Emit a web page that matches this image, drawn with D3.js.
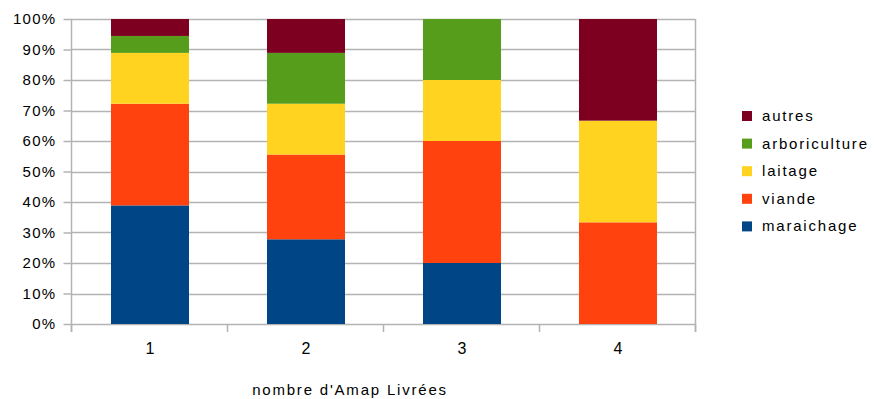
<!DOCTYPE html>
<html>
<head>
<meta charset="utf-8">
<script src="https://cdn.jsdelivr.net/npm/d3@7"></script>
<style>
  html, body { margin: 0; padding: 0; background: #fff; }
  svg { display: block; }
  text { font-family: "Liberation Sans", Arial, sans-serif; fill: #000; }
</style>
</head>
<body>
<svg id="chart" width="874" height="399"></svg>
<script>
// Categories on the x axis
const categories = ["1", "2", "3", "4"];

// Number of answers per kind of production (stacked to 100 %)
const maraichage    = [7, 5, 1, 0];
const viande        = [6, 5, 2, 1];
const laitage       = [3, 3, 1, 1];
const arboriculture = [1, 3, 1, 0];
const autres        = [1, 2, 0, 1];

const seriesNames  = ["maraichage", "viande", "laitage", "arboriculture", "autres"];
const seriesColors = ["#004586", "#ff420e", "#ffd320", "#579d1c", "#7e0021"];

const yTicks      = [0, 0.1, 0.2, 0.3, 0.4, 0.5, 0.6, 0.7, 0.8, 0.9, 1];
const yTickLabels = ["0%", "10%", "20%", "30%", "40%", "50%", "60%", "70%", "80%", "90%", "100%"];
const xTitle = "nombre d'Amap Livrées";

const rows = categories.map((c, i) => ({
  cat: c,
  maraichage: maraichage[i],
  viande: viande[i],
  laitage: laitage[i],
  arboriculture: arboriculture[i],
  autres: autres[i]
}));

const stacked = d3.stack()
  .keys(seriesNames)
  .offset(d3.stackOffsetExpand)(rows);

const svg = d3.select("#chart");
const plot = { left: 72, right: 696, top: 19, bottom: 324 };

const x = d3.scaleBand()
  .domain(categories)
  .range([plot.left, plot.right])
  .paddingInner(0.5)
  .paddingOuter(0.25);

const y = d3.scaleLinear()
  .domain([0, 1])
  .range([plot.bottom, plot.top]);

const color = d3.scaleOrdinal().domain(seriesNames).range(seriesColors);
const gridColor = "#b3b3b3";

// Horizontal grid lines
svg.append("g")
  .selectAll("line")
  .data(yTicks)
  .join("line")
  .attr("x1", plot.left - 1).attr("x2", plot.right - 1)
  .attr("y1", d => Math.round(y(d)) + 0.5).attr("y2", d => Math.round(y(d)) + 0.5)
  .attr("stroke", gridColor).attr("stroke-width", 1.5);

// Right border of the plot
svg.append("line")
  .attr("x1", plot.right - 0.5).attr("x2", plot.right - 0.5)
  .attr("y1", plot.top).attr("y2", plot.bottom + 8)
  .attr("stroke", gridColor).attr("stroke-width", 1.5);

// Stacked bars
svg.append("g")
  .selectAll("g")
  .data(stacked)
  .join("g")
  .attr("fill", d => color(d.key))
  .selectAll("rect")
  .data(d => d)
  .join("rect")
  .attr("x", d => x(d.data.cat))
  .attr("width", x.bandwidth())
  .attr("y", d => y(d[1]))
  .attr("height", d => y(d[0]) - y(d[1]));

// Y axis
const yAxis = d3.axisLeft(y)
  .tickValues(yTicks)
  .tickFormat((d, i) => yTickLabels[i])
  .tickSize(8)
  .tickPadding(7);

const gy = svg.append("g")
  .attr("transform", `translate(${plot.left - 0.5},0)`)
  .call(yAxis);
gy.select(".domain").remove();
gy.append("line")
  .attr("x1", 0).attr("x2", 0)
  .attr("y1", plot.top).attr("y2", plot.bottom + 8)
  .attr("stroke", gridColor).attr("stroke-width", 1.5);
gy.selectAll(".tick line").attr("stroke", gridColor).attr("stroke-width", 1.5);
gy.selectAll(".tick text")
  .style("font-size", "15px")
  .style("letter-spacing", "1.3px")
  .attr("fill", "#000");

// X axis: labels centered under bars, ticks on category boundaries
const xAxis = d3.axisBottom(x).tickSize(0).tickPadding(19);
const gx = svg.append("g")
  .attr("transform", `translate(0,${plot.bottom})`)
  .call(xAxis);
gx.select(".domain").remove();
gx.selectAll(".tick text")
  .style("font-size", "16px")
  .attr("fill", "#000");

const boundaries = [plot.left].concat(categories.map(c => x(c) + x.bandwidth() + x.step() * 0.25));
svg.append("g")
  .selectAll("line")
  .data(boundaries)
  .join("line")
  .attr("x1", d => Math.round(d) - 0.5).attr("x2", d => Math.round(d) - 0.5)
  .attr("y1", plot.bottom).attr("y2", plot.bottom + 8)
  .attr("stroke", gridColor).attr("stroke-width", 1.5);

// Axis title
svg.append("text")
  .attr("x", 350)
  .attr("y", 395)
  .attr("text-anchor", "middle")
  .style("font-size", "15px")
  .style("letter-spacing", "1.8px")
  .text(xTitle);

// Legend (top item is the top of the stack)
const legendItems = seriesNames.slice().reverse();
const legend = svg.append("g")
  .selectAll("g")
  .data(legendItems)
  .join("g")
  .attr("transform", (d, i) => `translate(742,${116 + i * 27.6})`);
legend.append("rect")
  .attr("x", 0).attr("y", -5)
  .attr("width", 10).attr("height", 10)
  .attr("fill", d => color(d));
legend.append("text")
  .attr("x", 20).attr("y", 5)
  .style("font-size", "15px")
  .style("letter-spacing", "1.8px")
  .text(d => d);
</script>
</body>
</html>
